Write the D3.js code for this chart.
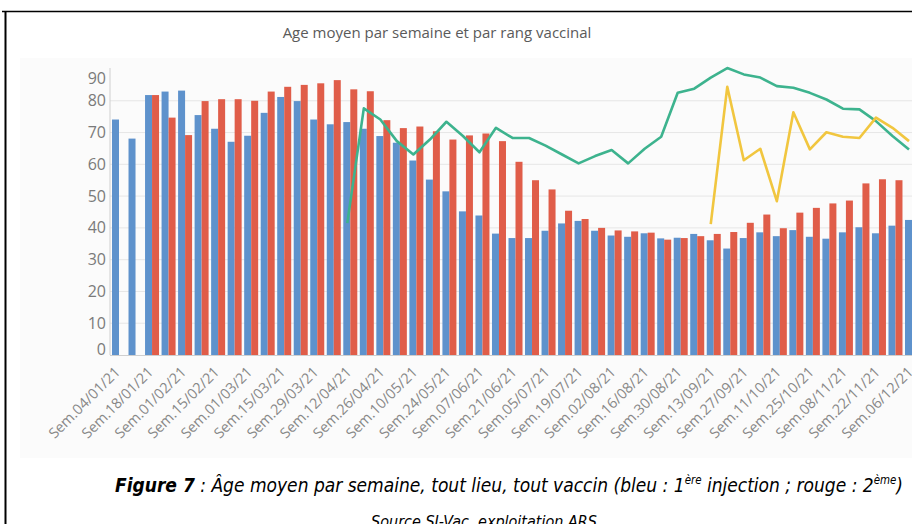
<!DOCTYPE html>
<html>
<head>
<meta charset="utf-8">
<script src="https://cdn.jsdelivr.net/npm/d3@7"></script>
<style>
  body { margin: 0; background: #fff; }
  svg { display: block; }
</style>
</head>
<body>
<div class="chart"></div>
<script>
const weeks = [
  "04/01/21", "11/01/21", "18/01/21", "25/01/21", "01/02/21", "08/02/21", "15/02/21", "22/02/21",
  "01/03/21", "08/03/21", "15/03/21", "22/03/21", "29/03/21", "05/04/21", "12/04/21", "19/04/21",
  "26/04/21", "03/05/21", "10/05/21", "17/05/21", "24/05/21", "31/05/21", "07/06/21", "14/06/21",
  "21/06/21", "28/06/21", "05/07/21", "12/07/21", "19/07/21", "26/07/21", "02/08/21", "09/08/21",
  "16/08/21", "23/08/21", "30/08/21", "06/09/21", "13/09/21", "20/09/21", "27/09/21", "04/10/21",
  "11/10/21", "18/10/21", "25/10/21", "01/11/21", "08/11/21", "15/11/21", "22/11/21", "29/11/21",
  "06/12/21"
];

// 1ere injection (bleu)
const dose1 = [
  74.1, 68.1, 81.8, 82.9, 83.2, 75.5, 71.2, 67.1, 69.0, 76.2, 81.2, 79.9, 74.1, 72.6, 73.3, 71.2,
  68.9, 66.8, 61.2, 55.2, 51.5, 45.2, 43.9, 38.2, 36.8, 36.8, 39.1, 41.4, 42.2, 39.1, 37.6, 37.2,
  38.3, 36.7, 36.9, 38.1, 36.1, 33.5, 36.8, 38.6, 37.4, 39.3, 37.2, 36.6, 38.6, 40.2, 38.3, 40.7,
  42.5
];

// 2eme injection (rouge)
const dose2 = [
  null, null, 81.8, 74.7, 69.2, 79.9, 80.5, 80.5, 80.0, 82.9, 84.4, 85.0, 85.5, 86.5, 83.6, 83.0,
  73.9, 71.4, 71.9, 70.4, 67.8, 69.1, 69.7, 67.3, 60.8, 55.0, 52.1, 45.4, 42.8, 40.0, 39.2, 38.9,
  38.5, 36.3, 36.8, 37.4, 38.1, 38.7, 41.6, 44.2, 39.9, 44.8, 46.3, 47.7, 48.6, 54.0, 55.3, 55.0,
  55.0
];

// 3eme injection (vert)
const dose3 = [
  null, null, null, null, null, null, null, null, null, null, null, null, null, null, 41.5, 77.6,
  74.1, 67.3, 63.1, 67.8, 73.4, 68.9, 63.8, 71.5, 68.3, 68.3, 65.9, 63.1, 60.3, 62.6, 64.5, 60.3,
  64.9, 68.7, 82.5, 83.8, 87.3, 90.3, 88.3, 87.3, 84.6, 84.1, 82.5, 80.4, 77.5, 77.3, 73.6, 68.9,
  64.7
];

// 4eme injection (jaune)
const dose4 = [
  null, null, null, null, null, null, null, null, null, null, null, null, null, null, null, null,
  null, null, null, null, null, null, null, null, null, null, null, null, null, null, null, null,
  null, null, null, null, 41.2, 84.4, 61.3, 64.9, 48.4, 76.4, 64.7, 70.1, 68.7, 68.3, 74.7, 71.5,
  67.3
];

const yTicks = [0, 10, 20, 30, 40, 50, 60, 70, 80, 90];

const width = 912, height = 524;
const blue = "#5e92cc", red = "#e05d49", green = "#3db38e", yellow = "#f1c63f";

const svg = d3.select(".chart").append("svg")
  .attr("width", width)
  .attr("height", height);

// page frame
svg.append("line").attr("x1", 2).attr("x2", width).attr("y1", 11.5).attr("y2", 11.5)
  .attr("stroke", "#000").attr("stroke-width", 1.6);
svg.append("line").attr("x1", 5.5).attr("x2", 5.5).attr("y1", 11).attr("y2", height)
  .attr("stroke", "#000").attr("stroke-width", 2);

// faint chart panel
svg.append("rect").attr("x", 20).attr("y", 58).attr("width", width - 20).attr("height", 400)
  .attr("fill", "#fbfbfb");

const x = d3.scalePoint().domain(weeks).range([119, 912]);
const sub = d3.scaleBand().domain(["d1", "d2"]).range([-7, 7]);
const y = d3.scaleLinear().domain([0, 90]).range([355, 69]);
const lineShift = -3;

// title
svg.append("text")
  .attr("x", 437).attr("y", 38)
  .attr("text-anchor", "middle")
  .style("font-family", "'Open Sans', sans-serif")
  .style("font-size", "15px")
  .style("fill", "#5a5a5a")
  .text("Age moyen par semaine et par rang vaccinal");

// gridlines
svg.append("g").selectAll("line")
  .data(yTicks.filter(t => t > 0 && t < 90))
  .join("line")
  .attr("x1", 110).attr("x2", width)
  .attr("y1", d => y(d)).attr("y2", d => y(d))
  .attr("stroke", "#e6e6e6");

// y axis labels
svg.append("g").selectAll("text")
  .data(yTicks)
  .join("text")
  .attr("x", 106)
  .attr("y", d => Math.max(78, Math.min(349, y(d))))
  .attr("dy", "0.35em")
  .attr("text-anchor", "end")
  .style("font-family", "'Open Sans', sans-serif")
  .style("font-size", "16px")
  .style("fill", "#7a7a7a")
  .text(d => d);

// bars
const groups = svg.append("g").selectAll("g")
  .data(weeks.map((w, i) => ({ week: w, d1: dose1[i], d2: dose2[i] })))
  .join("g")
  .attr("transform", d => `translate(${x(d.week)},0)`);

groups.selectAll("rect")
  .data(d => ["d1", "d2"].filter(k => d[k] != null).map(k => ({ key: k, value: d[k] })))
  .join("rect")
  .attr("x", d => sub(d.key))
  .attr("width", sub.bandwidth())
  .attr("y", d => y(d.value))
  .attr("height", d => y(0) - y(d.value))
  .attr("fill", d => d.key === "d1" ? blue : red);

// axes lines
svg.append("line").attr("x1", 110).attr("x2", 110).attr("y1", 68).attr("y2", 355)
  .attr("stroke", "#cfcfcf");
svg.append("line").attr("x1", 110).attr("x2", width).attr("y1", 355.5).attr("y2", 355.5)
  .attr("stroke", "#cfcfcf");

// lines
const line = d3.line()
  .defined(d => d != null)
  .x((d, i) => x(weeks[i]) + lineShift)
  .y(d => y(d));

svg.append("path").datum(dose3)
  .attr("d", line)
  .attr("fill", "none")
  .attr("stroke", green)
  .attr("stroke-width", 2.6)
  .attr("stroke-linejoin", "round");

svg.append("path").datum(dose4)
  .attr("d", line)
  .attr("fill", "none")
  .attr("stroke", yellow)
  .attr("stroke-width", 2.6)
  .attr("stroke-linejoin", "round");

// x labels (every other week)
svg.append("g").selectAll("text")
  .data(weeks.filter((w, i) => i % 2 === 0))
  .join("text")
  .attr("transform", d => `translate(${x(d) + 2},373) rotate(-45)`)
  .attr("text-anchor", "end")
  .style("font-family", "'Open Sans', sans-serif")
  .style("font-size", "14.5px")
  .style("fill", "#888")
  .text(d => "Sem." + d);

// caption
const cap = svg.append("text")
  .attr("x", 115).attr("y", 492)
  .attr("textLength", 788)
  .attr("lengthAdjust", "spacingAndGlyphs")
  .style("font-family", "'Liberation Sans Narrow', 'DejaVu Sans Condensed', 'Liberation Sans', sans-serif")
  .style("font-size", "20px")
  .style("font-style", "italic")
  .style("fill", "#000");
cap.append("tspan").style("font-weight", "bold").text("Figure 7");
cap.append("tspan").text(" : Âge moyen par semaine, tout lieu, tout vaccin (bleu : 1");
cap.append("tspan").attr("dy", -8).style("font-size", "12px").text("ère");
cap.append("tspan").attr("dy", 8).text(" injection ; rouge : 2");
cap.append("tspan").attr("dy", -8).style("font-size", "12px").text("ème");
cap.append("tspan").attr("dy", 8).text(")");

svg.append("text")
  .attr("x", 484).attr("y", 527)
  .attr("text-anchor", "middle")
  .style("font-family", "'Liberation Sans Narrow', 'DejaVu Sans Condensed', 'Liberation Sans', sans-serif")
  .style("font-size", "16px")
  .style("font-style", "italic")
  .style("fill", "#000")
  .text("Source SI-Vac, exploitation ARS");
</script>
</body>
</html>
